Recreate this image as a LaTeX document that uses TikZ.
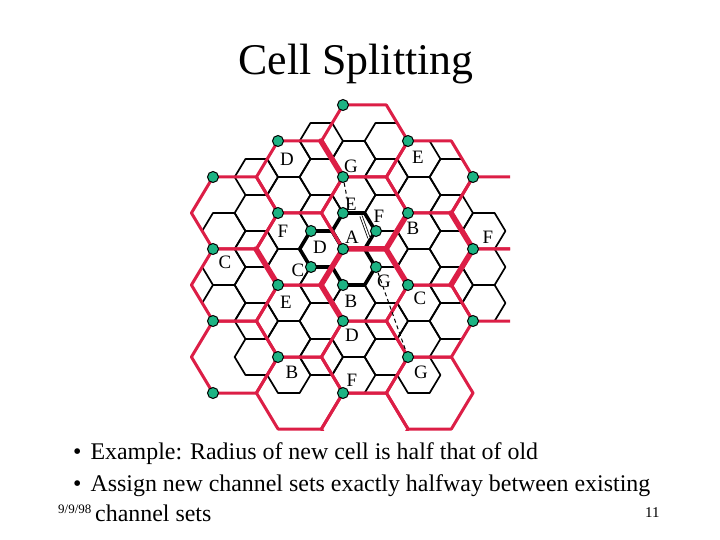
\documentclass[tikz,border=0pt]{standalone}
\usepackage{fontspec}
\setmainfont{Liberation Serif}
\definecolor{hred}{HTML}{DC1E46}
\definecolor{dgreen}{HTML}{1DB383}
\newcommand\hexpath[3]{({#1-#3},{#2}) -- ({#1-#3/2},{#2-#3*0.8314}) -- ({#1+#3/2},{#2-#3*0.8314}) -- ({#1+#3},{#2}) -- ({#1+#3/2},{#2+#3*0.8314}) -- ({#1-#3/2},{#2+#3*0.8314}) -- cycle}
\tikzset{
 smallhex/.style={draw=black,line width=1.7bp,line join=round},
 thickhex/.style={draw=black,line width=3.6bp,line join=round},
 bighex/.style={draw=hred,line width=3bp,line join=round},
 thickred/.style={draw=hred,line width=5.5bp,line cap=round},
 bs/.style={circle,fill=dgreen,draw=black,line width=1bp,inner sep=0pt,minimum size=11bp},
 lab/.style={font=\fontsize{19}{19}\selectfont,inner sep=0pt},
 btxt/.style={font=\fontsize{24}{28}\selectfont,anchor=base west,inner sep=0pt},
}
\begin{document}
\begin{tikzpicture}[x=1bp,y=-1bp]
\useasboundingbox (0,0) rectangle (720,540);
\node[font=\fontsize{44}{48}\selectfont] (title) at (356,64) {Cell Splitting};
\begin{scope}
\clip (185,60) rectangle (510,430);
% small hexes
\foreach \i in {-6,...,6}{\foreach \j in {-8,...,8}{
 \pgfmathsetmacro\cx{353.8+32.5*\i}
 \pgfmathsetmacro\cy{267+36*\j+18*\i}
 \pgfmathsetmacro\dd{((\cx-352)/138)^2+((\cy-266)/130)^2}
 \ifdim\dd pt<1pt \draw[smallhex] \hexpath{\cx}{\cy}{21.65}; \fi
}}
\draw[thickhex] \hexpath{353.8}{231}{21.65};
\draw[thickhex] \hexpath{353.8}{267}{21.65};
\draw[thickhex] \hexpath{321.3}{249}{21.65};
% big hexes
\foreach \cx/\cy in {234.7/213,234.7/285,234.7/357,299.7/177,299.7/249,299.7/321,299.7/393,364.7/141,364.7/213,364.7/285,364.7/357,364.7/429,429.7/177,429.7/249,429.7/321,429.7/393,494.7/213,494.7/285}{
 \draw[bighex] \hexpath{\cx}{\cy}{43.3};
}
\draw[thickred] (343,249) -- (386,249) -- (408,213);
\draw[thickred] (386,249) -- (408,285);
\draw[thickred] (343,249) -- (321,285) -- (343,321);
\draw[thickred] (321,141) -- (343,177);
\draw[thickred] (451,213) -- (473,249) -- (451,285);
\draw[thickred] (256,249) -- (278,285);
\end{scope}
% dashed lines
\coordinate (d1) at (349,208);
\coordinate (d2) at (361,216);
\coordinate (d3) at (369,238);
% dots
\foreach \n/\p in {r1/{343,105},r2/{278,141},r3/{408,141},r4/{213,177},r5/{343,177},r6/{473,177},r7/{278,213},r8/{408,213},r9/{213,249},r10/{343,249},r11/{473,249},r12/{278,285},r13/{408,285},r14/{213,321},r15/{343,321},r16/{473,321},r17/{278,357},r18/{408,357},r19/{213,393},r20/{343,393},sD/{311,231},sC/{311,267},sE/{343,213},sB/{343,285},sF/{376,231},sG/{376,267}}{
 \node[bs] (\n) at (\p) {};
}
\draw[dashed,line width=1bp,dash pattern=on 4bp off 3bp] (r5) -- (d1);
\draw[line width=0.8bp,double,double distance=1.5bp] (d2) -- (d3);
\draw[dashed,line width=1bp,dash pattern=on 4bp off 3bp] (sG) -- (r18);
% labels
\foreach \n/\p/\t in {l1/{287,159}/D,l2/{351,166}/G,l3/{418,157}/E,l4/{351,204}/E,l5/{379,216}/F,l6/{413,228}/B,l7/{488,237}/F,l8/{283,231}/F,l9/{352,237}/A,l10/{320,247}/D,l11/{225,262}/C,l12/{298,270}/C,l13/{384,281}/G,l14/{420,298}/C,l15/{286,302}/E,l16/{351,301}/B,l17/{352,335}/D,l18/{292,372}/B,l19/{352,380}/F,l20/{421,372}/G}{
 \node[lab] (\n) at (\p) {\t};
}
% text
\node[btxt] (b1) at (73,459) {\textbullet\hspace{9bp}Example: Radius of new cell is half that of old};
\node[btxt] (b2) at (73,491) {\textbullet\hspace{9bp}Assign new channel sets exactly halfway between existing};
\node[btxt] (b3) at (95,521) {channel sets};
\node[font=\fontsize{13}{13}\selectfont,anchor=base west,inner sep=0pt] (dt) at (58,513) {9/9/98};
\node[font=\fontsize{15}{15}\selectfont,anchor=base west,inner sep=0pt] (pg) at (645,517) {11};
\end{tikzpicture}
\end{document}
